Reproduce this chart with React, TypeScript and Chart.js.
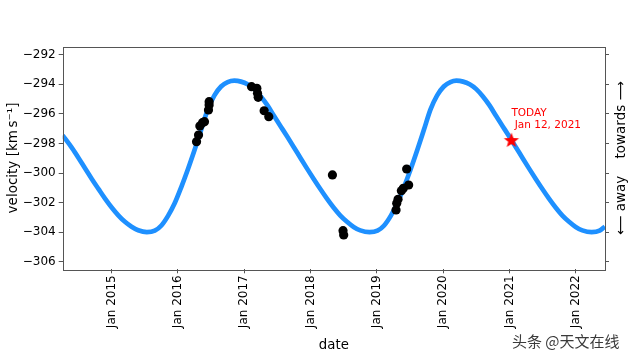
import React, { useEffect, useRef } from "react";
import { Chart, registerables } from "chart.js";

Chart.register(...registerables);

// Model curve (decimal year, km/s)
const curveYears = [
  2014.26, 2014.4, 2014.5, 2014.6, 2014.7, 2014.8, 2014.9, 2015.0, 2015.1, 2015.2,
  2015.3, 2015.4, 2015.53, 2015.65, 2015.75, 2015.85, 2015.95, 2016.05, 2016.15, 2016.25,
  2016.35, 2016.45, 2016.55, 2016.65, 2016.75, 2016.85, 2016.95, 2017.05, 2017.15, 2017.25,
  2017.35, 2017.45, 2017.55, 2017.65, 2017.75, 2017.85, 2017.95, 2018.05, 2018.15, 2018.25,
  2018.35, 2018.45, 2018.55, 2018.65, 2018.75, 2018.89, 2019.01, 2019.11, 2019.21, 2019.31,
  2019.41, 2019.51, 2019.61, 2019.71, 2019.81, 2019.91, 2020.01, 2020.11, 2020.2, 2020.3,
  2020.4, 2020.5, 2020.6, 2020.7, 2020.8, 2020.9, 2021.0, 2021.1, 2021.2, 2021.3,
  2021.4, 2021.5, 2021.6, 2021.7, 2021.8, 2021.9, 2022.0, 2022.1, 2022.24, 2022.36,
  2022.44,
];
const curveVelocities = [
  -297.45, -298.3, -298.98, -299.7, -300.4, -301.07, -301.73, -302.33, -302.86, -303.3,
  -303.63, -303.87, -304.0, -303.9, -303.55, -302.9, -302.05, -300.95, -299.75, -298.45,
  -297.08, -295.7, -294.75, -294.15, -293.85, -293.76, -293.82, -294.0, -294.33, -294.83,
  -295.43, -296.15, -296.85, -297.55, -298.27, -299.0, -299.72, -300.42, -301.1, -301.75,
  -302.35, -302.88, -303.3, -303.65, -303.88, -304.0, -303.9, -303.55, -302.9, -302.05,
  -300.95, -299.75, -298.45, -297.08, -295.7, -294.75, -294.15, -293.85, -293.76, -293.82,
  -294.0, -294.33, -294.83, -295.43, -296.15, -296.85, -297.55, -298.27, -299.0, -299.72,
  -300.42, -301.1, -301.75, -302.35, -302.88, -303.3, -303.65, -303.88, -304.0, -303.9,
  -303.62,
];

// Observations
const obsYears = [
  2016.28, 2016.31, 2016.33, 2016.37, 2016.4, 2016.46, 2016.47, 2016.47,
  2017.11, 2017.19, 2017.2, 2017.21, 2017.3, 2017.37,
  2018.33, 2018.49, 2018.5,
  2019.29, 2019.3, 2019.32, 2019.37, 2019.4, 2019.48, 2019.45,
];
const obsVelocities = [
  -297.88, -297.43, -296.82, -296.6, -296.53, -295.74, -295.4, -295.18,
  -294.16, -294.27, -294.61, -294.88, -295.79, -296.19,
  -300.13, -303.9, -304.19,
  -302.5, -302.05, -301.78, -301.2, -301.03, -300.81, -299.73,
];

// Today marker
const todayYears = [2021.03];
const todayVelocities = [-297.77];
const todayLabelLines = ["TODAY", " Jan 12, 2021"];

// Axes
const yTicks = [-306, -304, -302, -300, -298, -296, -294, -292];
const xTicks = [2015, 2016, 2017, 2018, 2019, 2020, 2021, 2022];
const xTickLabels = ["Jan 2015", "Jan 2016", "Jan 2017", "Jan 2018", "Jan 2019", "Jan 2020", "Jan 2021", "Jan 2022"];
const xTitle = "date";
const yTitle = "velocity [km\u2009s\u207B\u00B9]";
const rightTitle = "\u27F5 away    towards \u27F6";
const watermark = "头条 @天文在线";

const FONT = "'DejaVu Sans', 'Liberation Sans', sans-serif";
const X_MIN = 2014.261;
const X_MAX = 2022.442;
const Y_MIN = -306.51;
const Y_MAX = -291.46;

function makeStar(r: number, color: string): HTMLCanvasElement {
  const s = Math.ceil(r * 2 + 2);
  const c = document.createElement("canvas");
  c.width = s;
  c.height = s;
  const g = c.getContext("2d")!;
  g.beginPath();
  for (let i = 0; i < 10; i++) {
    const rad = i % 2 === 0 ? r : r * 0.42;
    const a = -Math.PI / 2 + (i * Math.PI) / 5;
    const px = s / 2 + rad * Math.cos(a);
    const py = s / 2 + 0.6 + rad * Math.sin(a);
    if (i === 0) g.moveTo(px, py);
    else g.lineTo(px, py);
  }
  g.closePath();
  g.fillStyle = color;
  g.fill();
  return c;
}

const fmtMinus = (v: number) => String(v).replace("-", "\u2212");

export default function App() {
  const ref = useRef<HTMLCanvasElement | null>(null);

  useEffect(() => {
    const canvas = ref.current;
    if (!canvas) return;

    const extras = {
      id: "extras",
      afterDraw(chart: any) {
        const ctx = chart.ctx as CanvasRenderingContext2D;
        const a = chart.chartArea;
        ctx.save();
        // frame
        ctx.strokeStyle = "#555";
        ctx.lineWidth = 1;
        ctx.strokeRect(Math.round(a.left) + 0.5, Math.round(a.top) + 0.5, Math.round(a.right - a.left), Math.round(a.bottom - a.top));

        // today annotation
        const xs = chart.scales.x;
        const ys = chart.scales.y;
        const px = xs.getPixelForValue(todayYears[0]);
        const py = ys.getPixelForValue(todayVelocities[0]);
        ctx.fillStyle = "#ff0000";
        ctx.font = `10.5px ${FONT}`;
        ctx.textAlign = "left";
        ctx.textBaseline = "middle";
        ctx.fillText(todayLabelLines[0], px, py - 27);
        ctx.fillText(todayLabelLines[1], px, py - 15);

        // right label
        ctx.fillStyle = "#000";
        ctx.font = `13.5px ${FONT}`;
        ctx.textAlign = "center";
        ctx.textBaseline = "middle";
        ctx.translate(621, (a.top + a.bottom) / 2);
        ctx.rotate(-Math.PI / 2);
        ctx.fillText(rightTitle, 0, 0);
        ctx.restore();

        // watermark
        ctx.save();
        ctx.font = `15px 'Noto Sans CJK SC', sans-serif`;
        ctx.textAlign = "left";
        ctx.textBaseline = "middle";
        ctx.fillStyle = "rgba(255,255,255,0.9)";
        ctx.fillText(watermark, 513, 342.5);
        ctx.fillStyle = "#3a3a3a";
        ctx.fillText(watermark, 512, 341.7);
        ctx.restore();
      },
    };

    const chart = new Chart(canvas, {
      type: "scatter",
      data: {
        datasets: [
          {
            type: "scatter",
            data: obsYears.map((x, i) => ({ x, y: obsVelocities[i] })),
            backgroundColor: "#000",
            borderColor: "#000",
            pointRadius: 4.6,
            borderWidth: 0,
          },
          {
            type: "scatter",
            data: todayYears.map((x, i) => ({ x, y: todayVelocities[i] })),
            pointStyle: makeStar(8, "#ff0000") as any,
            pointRadius: 8,
          },
          {
            type: "line",
            data: curveYears.map((x, i) => ({ x, y: curveVelocities[i] })),
            borderColor: "#1E90FF",
            borderWidth: 4.7,
            pointRadius: 0,
            fill: false,
            cubicInterpolationMode: "monotone",
          } as any,
        ],
      },
      options: {
        responsive: false,
        animation: false,
        layout: { padding: { top: 46.7, left: 0, right: 0, bottom: 0 } },
        plugins: { legend: { display: false }, tooltip: { enabled: false } },
        scales: {
          x: {
            type: "linear",
            position: "bottom",
            min: X_MIN,
            max: X_MAX,
            afterBuildTicks: (s: any) => {
              s.ticks = xTicks.map((v) => ({ value: v }));
            },
            afterFit: (s: any) => {
              s.height = 90.7;
            },
            ticks: {
              autoSkip: false,
              minRotation: 90,
              maxRotation: 90,
              padding: 2,
              color: "#000",
              font: { family: FONT, size: 12 },
              callback: (v: any) => xTickLabels[xTicks.indexOf(Number(v))] ?? "",
            },
            grid: { drawOnChartArea: false, drawTicks: true, tickLength: 4, color: "#555" },
            border: { display: false },
            title: {
              display: true,
              text: xTitle,
              color: "#000",
              font: { family: FONT, size: 13.3 },
              padding: { top: 0, bottom: 6.5 },
            },
          },
          y: {
            type: "linear",
            position: "left",
            min: Y_MIN,
            max: Y_MAX,
            afterBuildTicks: (s: any) => {
              s.ticks = yTicks.map((v) => ({ value: v }));
            },
            afterFit: (s: any) => {
              s.width = 62.7;
            },
            ticks: {
              padding: 3,
              color: "#000",
              font: { family: FONT, size: 12 },
              callback: (v: any) => fmtMinus(Number(v)),
            },
            grid: { drawOnChartArea: false, drawTicks: true, tickLength: 4, color: "#555" },
            border: { display: false },
            title: {
              display: true,
              text: yTitle,
              color: "#000",
              font: { family: FONT, size: 13.5 },
              padding: { top: 5.5, bottom: 0 },
            },
          },
          y2: {
            type: "linear",
            position: "right",
            min: Y_MIN,
            max: Y_MAX,
            afterBuildTicks: (s: any) => {
              s.ticks = yTicks.map((v) => ({ value: v }));
            },
            afterFit: (s: any) => {
              s.width = 35;
            },
            ticks: { display: false },
            grid: { drawOnChartArea: false, drawTicks: true, tickLength: 4, color: "#555" },
            border: { display: false },
          },
        },
      },
      plugins: [extras],
    } as any);

    return () => chart.destroy();
  }, []);

  return (
    <div style={{ position: "absolute", left: 0, top: 0, width: 640, height: 360, background: "#fff" }}>
      <canvas ref={ref} width={640} height={360} style={{ display: "block", width: 640, height: 360 }} />
    </div>
  );
}
